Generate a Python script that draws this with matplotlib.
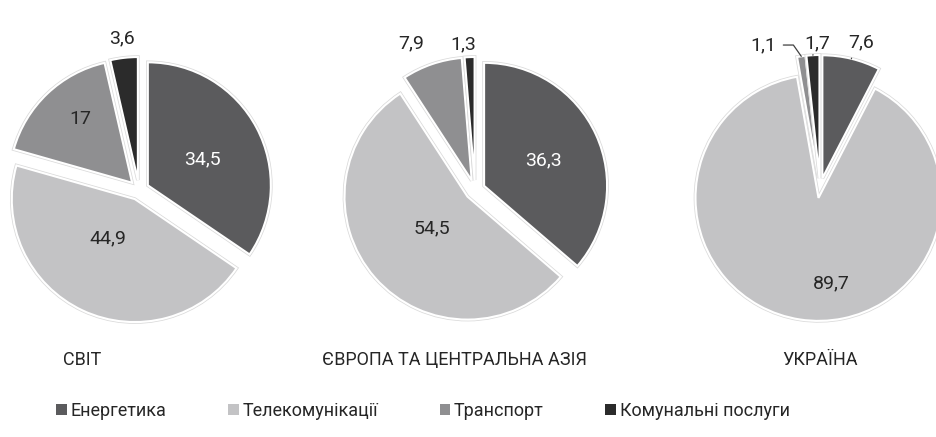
import numpy as np
import matplotlib.pyplot as plt
import matplotlib.patheffects as pe
from matplotlib.patches import Patch

plt.rcParams['font.family'] = ['Roboto', 'DejaVu Sans']

sectors = ['Енергетика', 'Телекомунікації', 'Транспорт', 'Комунальні послуги']
regions = ['СВІТ', 'ЄВРОПА ТА ЦЕНТРАЛЬНА АЗІЯ', 'УКРАЇНА']
svit = [34.5, 44.9, 17, 3.6]
europe = [36.3, 54.5, 7.9, 1.3]
ukraine = [7.6, 89.7, 1.1, 1.7]

colors = ['#5b5b5d', '#c3c3c5', '#8f8f91', '#2b2b2b']
W, H = 936, 437

# layout in pixel units (image coords, y down)
centers = [(139, 190), (475, 190), (820, 188)]
title_x = [82, 455, 820]
R = 123
EXPL = 10
# label distance (fraction of R) and angle nudge for each slice
lab_dist = [[0.57, 0.47, 0.75, 1.24], [0.61, 0.47, 1.30, 1.19], [1.23, 0.78, 1.25, 1.18]]
lab_nudge = [[-2, -8, -4, 0], [-1, 0, 4.6, 2.4], [-2, 15.5, 13.5, -2]]
lab_color = [['white', '#262626', '#262626', '#262626'],
             ['white', '#262626', '#262626', '#262626'],
             ['#262626', '#262626', '#262626', '#262626']]

fig = plt.figure(figsize=(9.36, 4.37), dpi=100)
ax = fig.add_axes([0, 0, 1, 1])

for i, vals in enumerate([svit, europe, ukraine]):
    cx, cy = centers[i][0], H - centers[i][1]
    wedges, _ = ax.pie(vals, colors=colors, startangle=90, counterclock=False,
                       center=(cx, cy), radius=R, explode=[EXPL] * 4,
                       wedgeprops=dict(edgecolor='white', linewidth=1.5))
    for w in wedges:
        w.set_path_effects([pe.Stroke(linewidth=2.6, foreground='#dadada'), pe.Normal()])
    tot = sum(vals)
    cum = np.cumsum([0] + list(vals))
    for j, v in enumerate(vals):
        mid = 90 - 360 * (cum[j] + v / 2) / tot
        a = np.radians(mid + lab_nudge[i][j])
        d = lab_dist[i][j] * R
        tx, ty = cx + d * np.cos(a), cy + d * np.sin(a)
        txt = f'{v:g}'.replace('.', ',')
        if i == 2 and j != 1:
            am = np.radians(mid)
            ex = cx + (R + EXPL) * np.cos(am)
            ey = cy + (R + EXPL) * np.sin(am)
            if j == 2:
                rel = (1.0, 0.5)
                cs = 'angle,angleA=0,angleB=125,rad=0'
            else:
                rel = (0.2 if j == 0 else 0.35, 0.0)
                cs = 'arc3'
            ax.annotate(txt, xy=(ex, ey), xytext=(tx, ty), ha='center', va='center',
                        fontsize=14, color=lab_color[i][j],
                        arrowprops=dict(arrowstyle='-', color='#404040', lw=0.9,
                                        relpos=rel, connectionstyle=cs,
                                        shrinkA=3, shrinkB=0))
        else:
            ax.text(tx, ty, txt, ha='center', va='center', fontsize=14,
                    color=lab_color[i][j])
    ax.text(title_x[i], H - 360, regions[i], ha='center', va='center',
            fontsize=13, color='#262626')

ax.set_xlim(0, W)
ax.set_ylim(0, H)
ax.set_aspect('equal')
ax.axis('off')

handles = [Patch(facecolor=c, edgecolor='none') for c in colors]
fig.legend(handles, sectors, loc='center', bbox_to_anchor=(0.452, 1 - 411 / H),
           ncol=4, frameon=False, fontsize=13, handlelength=0.6, handleheight=0.6,
           handletextpad=0.2, columnspacing=3.4, labelcolor='#262626')

fig.savefig('out.png', dpi=100)
